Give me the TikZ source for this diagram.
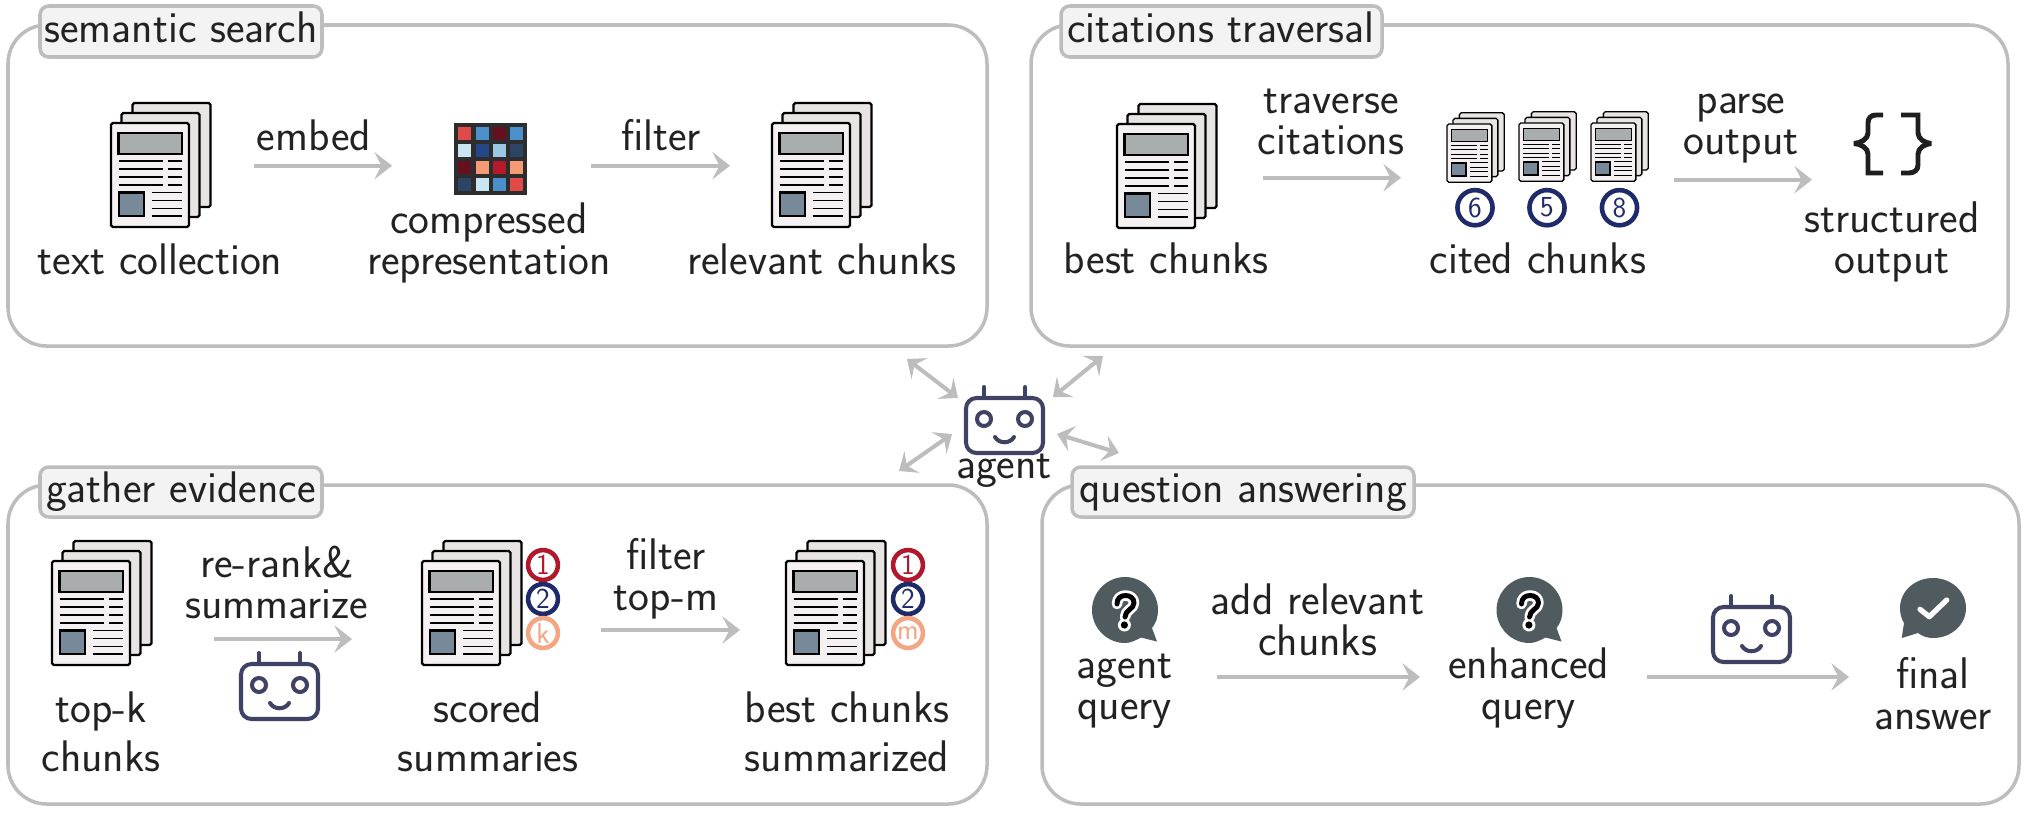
\documentclass[tikz,border=0pt]{standalone}
\usepackage{fontspec}
\usetikzlibrary{arrows.meta}
\definecolor{pgray}{HTML}{BDBDBD}
\definecolor{tagfill}{HTML}{F3F3F3}
\definecolor{txt}{HTML}{222222}
\definecolor{robo}{HTML}{3F4264}
\definecolor{navy}{HTML}{1F2A6B}
\definecolor{crim}{HTML}{B2182B}
\definecolor{peach}{HTML}{F4A582}
\definecolor{bubble}{HTML}{4F5B5E}
\definecolor{docfront}{HTML}{F5F1F2}
\definecolor{docback}{HTML}{E9E4E4}
\definecolor{docgray}{HTML}{AAADAD}
\definecolor{docsq}{HTML}{788A99}
\definecolor{hr}{HTML}{E04B4A}\definecolor{hb}{HTML}{4B90CC}\definecolor{hd}{HTML}{65101F}
\definecolor{hl}{HTML}{CAE6F3}\definecolor{hn}{HTML}{24478A}\definecolor{hm}{HTML}{9AC8E2}
\definecolor{hs}{HTML}{2C4566}\definecolor{ho}{HTML}{F49B76}\definecolor{hc}{HTML}{B31B2C}
\definecolor{hbg}{HTML}{2D2D2D}
\tikzset{
  x=0.02cm,y=-0.02cm,
  panel/.style={draw=pgray,line width=2pt,rounded corners=22pt,fill=white},
  tag/.style={draw=pgray,line width=2pt,rounded corners=5pt,fill=tagfill},
  lbl/.style={inner sep=0pt,outer sep=0pt,anchor=base,yshift=-1pt,text=txt,font=\sffamily\fontsize{25.2}{23.6}\selectfont,align=center},
  widelbl/.style={lbl,font=\sffamily\fontsize{25.2}{28}\selectfont},
  flow/.style={draw=pgray,line width=2.3pt,-{Stealth[length=10pt,width=15.5pt,inset=4pt]}},
  both/.style={draw=pgray,line width=2.3pt,{Stealth[length=9pt,width=15pt,inset=3.6pt]}-{Stealth[length=9pt,width=15pt,inset=3.6pt]}},
  rank/.style={circle,draw=#1,line width=2.6pt,text=#1,fill=white,inner sep=0pt,minimum size=17pt,font=\sffamily\fontsize{16.5}{16.5}\selectfont},
  rankbig/.style={rank=#1,minimum size=20pt},
  bracket/.style={black!88,line width=2.8pt,miter limit=1.5},
  pics/docstack/.style={code={
    \foreach \dx/\dy in {21.5/-20,10.5/-10}{
      \draw[black,line width=#1,rounded corners=1pt,fill=docback] (\dx,\dy) rectangle ++(78,104);}
    \draw[black,line width=#1,rounded corners=1pt,fill=docfront] (0,0) rectangle (78,104);
    \draw[black,line width=#1,fill=docgray] (7.5,10) rectangle (70.7,31);
    \draw[black,line width=#1,fill=docsq] (8,69.5) rectangle (33,93);
    \foreach \yy in {38,46,53.7,61.7}{
      \draw[black,line width=.85*#1] (7.5,\yy) -- (51.7,\yy);
      \draw[black,line width=.85*#1] (57,\yy) -- (71,\yy);}
    \foreach \yy in {69.5,77.5,85.5,93}{
      \draw[black,line width=.85*#1] (40.7,\yy) -- (71,\yy);}
  }},
  pics/robot/.style={code={
    \draw[robo,line width=2.3pt,rounded corners=6pt] (0,11) rectangle (77,66);
    \draw[robo,line width=2.3pt,line cap=round] (18,0) -- (18,11);
    \draw[robo,line width=2.3pt,line cap=round] (59,0) -- (59,11);
    \draw[robo,line width=2.3pt] (18,32) circle (7);
    \draw[robo,line width=2.3pt] (59,32) circle (7);
    \draw[robo,line width=2.3pt,line cap=round] (29,50) .. controls (33,57) and (44,57) .. (48,50);
  }},
  pics/qbubble/.style={code={
    \fill[bubble] (33,0) .. controls (51,0) and (66,15) .. (66,33) .. controls (66,40) and (64,46) .. (60,51)
      -- (65,64.5) -- (49,60.5) .. controls (44,63) and (39,66) .. (33,66)
      .. controls (15,66) and (0,51) .. (0,33) .. controls (0,15) and (15,0) .. (33,0) -- cycle;
    \foreach \cl/\wid/\dotr in {white/6pt/6.5,black/2.8pt/3.6}{
      \draw[\cl,line width=\wid,line cap=round,line join=round]
        (25,27) .. controls (25,21) and (29,18.5) .. (33.5,18.5)
        .. controls (38,18.5) and (42,21) .. (42,26) .. controls (42,32) and (33,33) .. (33,40);
      \fill[\cl] (32.4,48) circle (\dotr);}
  }},
  pics/abubble/.style={code={
    \fill[bubble] (33,0) .. controls (51,0) and (66,13) .. (66,30) .. controls (66,47) and (51,60) .. (33,60)
      .. controls (27,60) and (22,58) .. (18,55) -- (1.7,60) -- (4,45) .. controls (1.5,41) and (0,36) .. (0,30)
      .. controls (0,13) and (15,0) .. (33,0) -- cycle;
    \draw[white,line width=3pt,line cap=round,line join=round] (20,31.3) -- (29.3,38.7) -- (46.7,22);
  }},
}
\begin{document}
\begin{tikzpicture}
\useasboundingbox (0,0) rectangle (2039,819);
% panels
\draw[panel] (8,25) rectangle (987,346);
\draw[panel] (1031,25) rectangle (2008,346);
\draw[panel] (8,485) rectangle (987,804);
\draw[panel] (1042,485) rectangle (2019,804);
\draw[tag] (40,6) rectangle (322,57);
\draw[tag] (1061,6) rectangle (1382,57);
\draw[tag] (40,467) rectangle (322,517);
\draw[tag] (1072,467) rectangle (1414,517);
\node[lbl] (t1) at (181,41) {semantic search};
\node[lbl] (t2) at (1221,41) {citations traversal};
\node[lbl] (t3) at (181,501) {gather evidence};
\node[lbl] (t4) at (1243,501) {question answering};
% panel 1
\pic at (111,123) {docstack=1.25pt};
\pic at (772,123) {docstack=1.25pt};
\fill[hbg] (454,123) rectangle (527,195);
\foreach \cx/\cy/\cc in {458/127/hr,476/127/hb,493/127/hd,510/127/hb,
  458/144/hl,476/144/hn,493/144/hm,510/144/hs,
  458/161/hd,476/161/ho,493/161/hc,510/161/ho,
  458/178/hs,476/178/hl,493/178/hb,510/178/hr}{
  \fill[\cc] (\cx,\cy) rectangle ++(13,13);}
\coordinate (a1s) at (254,165.7); \coordinate (a1e) at (392,165.7);
\coordinate (a2s) at (591,165.7); \coordinate (a2e) at (730,165.7);
\draw[flow] (a1s) -- (a1e);
\draw[flow] (a2s) -- (a2e);
\node[lbl] (n1) at (314,149) {embed};
\node[lbl] (n2) at (661,149) {filter};
\node[lbl] (n3) at (160,273) {text collection};
\node[lbl] (n4) at (489,273) {compressed\\representation};
\node[lbl] (n5) at (822,273) {relevant chunks};
% panel 2
\pic at (1117,124) {docstack=1.25pt};
\pic[xscale=.575,yscale=.56] at (1447,124) {docstack=.75pt};
\pic[xscale=.575,yscale=.56] at (1519,123) {docstack=.75pt};
\pic[xscale=.575,yscale=.56] at (1591,123) {docstack=.75pt};
\node[rankbig=navy] (c6) at (1475,207.7) {6};
\node[rankbig=navy] (c5) at (1547,207.7) {5};
\node[rankbig=navy] (c8) at (1619.5,207.7) {8};
\coordinate (b1s) at (1263,177.7); \coordinate (b1e) at (1401,177.7);
\coordinate (b2s) at (1673.5,179.7); \coordinate (b2e) at (1812,179.7);
\draw[flow] (b1s) -- (b1e);
\draw[flow] (b2s) -- (b2e);
\node[lbl] (n6) at (1331,153) {traverse\\citations};
\node[lbl] (n7) at (1741,153) {parse\\output};
\node[lbl] (n8) at (1166.4,272) {best chunks};
\node[lbl] (n9) at (1538,272) {cited chunks};
\node[lbl] (n10) at (1892,272) {structured\\output};
\draw[bracket] (1883,115) -- (1876,115) .. controls (1871,115) and (1868,118) .. (1868,123) -- (1868,133) .. controls (1868,139) and (1861,143) .. (1854,143.5) .. controls (1861,144) and (1868,148) .. (1868,154) -- (1868,173) -- (1883,173);
\draw[bracket] (1901,115) -- (1918,115) -- (1918,133) .. controls (1918,139) and (1925,143) .. (1931,143.5) .. controls (1925,144) and (1918,148) .. (1918,154) -- (1918,165) .. controls (1918,170) and (1914,173) .. (1909,173) -- (1901,173);
% panel 3
\pic at (52,561) {docstack=1.25pt};
\pic at (422,561) {docstack=1.25pt};
\pic at (786,561) {docstack=1.25pt};
\pic at (241,653) {robot};
\node[rank=crim] (r1) at (543,565) {1};
\node[rank=navy] (r2) at (543,599) {2};
\node[rank=peach] (r3) at (543,633) {k};
\node[rank=crim] (s1) at (908,565) {1};
\node[rank=navy] (s2) at (908,599) {2};
\node[rank=peach] (s3) at (908,633) {m};
\coordinate (c1s) at (214,639); \coordinate (c1e) at (352,639);
\coordinate (c2s) at (601,630); \coordinate (c2e) at (740,630);
\draw[flow] (c1s) -- (c1e);
\draw[flow] (c2s) -- (c2e);
\node[lbl] (n11) at (277,617) {re-rank\&\\summarize};
\node[lbl] (n12) at (666,609) {filter\\top-m};
\node[widelbl] (n13) at (101,770) {top-k\\chunks};
\node[widelbl] (n14) at (488,770) {scored\\summaries};
\node[widelbl] (n15) at (847,770) {best chunks\\summarized};
% panel 4
\pic at (1092,577) {qbubble};
\pic at (1496.5,577) {qbubble};
\pic at (1900,578) {abubble};
\pic at (1713,596) {robot};
\coordinate (d1s) at (1216.6,677); \coordinate (d1e) at (1420,677);
\coordinate (d2s) at (1646.5,677); \coordinate (d2e) at (1849,677);
\draw[flow] (d1s) -- (d1e);
\draw[flow] (d2s) -- (d2e);
\node[lbl] (n16) at (1124.6,718) {agent\\query};
\node[lbl] (n17) at (1528.7,718) {enhanced\\query};
\node[lbl] (n18) at (1933,728) {final\\answer};
\node[lbl] (n19) at (1317.6,654) {add relevant\\chunks};
% agent
\pic at (966,387) {robot};
\node[lbl] (agent) at (1004,477) {agent};
\coordinate (e1a) at (907,359); \coordinate (e1b) at (958,398);
\coordinate (e2a) at (1103,356); \coordinate (e2b) at (1053,397);
\coordinate (e3a) at (952,434); \coordinate (e3b) at (899,471);
\coordinate (e4a) at (1057,434); \coordinate (e4b) at (1119,453);
\draw[both] (e1a) -- (e1b);
\draw[both] (e2a) -- (e2b);
\draw[both] (e3a) -- (e3b);
\draw[both] (e4a) -- (e4b);
\end{tikzpicture}
\end{document}
